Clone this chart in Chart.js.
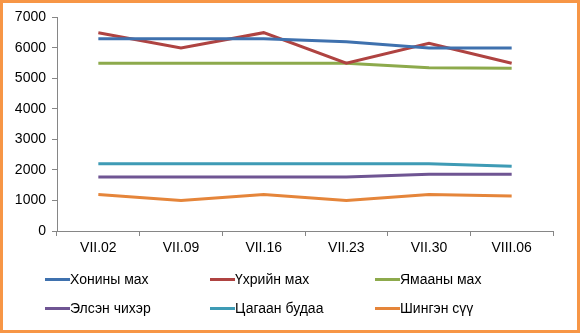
<!DOCTYPE html>
<html>
<head>
<meta charset="utf-8">
<script src="https://cdn.jsdelivr.net/npm/chart.js@4"></script>
<style>
  body { margin: 0; background: #fff; }
  #box { position: relative; width: 574px; height: 327px; border: 3px solid #F79646; background: #fff; }
  #wrap { position: absolute; left: 0; top: 0; width: 574px; height: 327px; }
  #legend { position: absolute; left: 0; top: 268px; width: 574px; font-family: "Liberation Sans", Arial, sans-serif; font-size: 14px; color: #000; }
  .item { position: absolute; white-space: nowrap; line-height: 16px; }
  .item span.sw { display: inline-block; width: 25px; height: 3px; vertical-align: middle; margin-right: 0; position: relative; top: -1px; }
</style>
</head>
<body>
<div id="box">
  <div id="wrap"><canvas id="chart"></canvas></div>
  <div id="legend"></div>
</div>
<script>
const categories = ['VII.02', 'VII.09', 'VII.16', 'VII.23', 'VII.30', 'VIII.06'];
const seriesNames = ['Хонины мах', 'Үхрийн мах', 'Ямааны мах', 'Элсэн чихэр', 'Цагаан будаа', 'Шингэн сүү'];
const khonyMakh = [6300, 6300, 6300, 6200, 6000, 6000];
const ukhriinMakh = [6500, 6000, 6500, 5500, 6150, 5500];
const yamaanyMakh = [5500, 5500, 5500, 5500, 5350, 5330];
const elsenChikher = [1770, 1770, 1770, 1770, 1860, 1860];
const tsagaanBudaa = [2200, 2200, 2200, 2200, 2200, 2120];
const shingenSuu = [1200, 1000, 1200, 1000, 1200, 1150];
const yTicks = [0, 1000, 2000, 3000, 4000, 5000, 6000, 7000];
const colors = ['#3F71AE', '#AF4341', '#8DAA4C', '#6F5593', '#3E9BB5', '#E5853A'];

const allValues = [khonyMakh, ukhriinMakh, yamaanyMakh, elsenChikher, tsagaanBudaa, shingenSuu];
const font = { family: '"Liberation Sans", Arial, sans-serif', size: 14 };

new Chart(document.getElementById('chart').getContext('2d'), {
  type: 'line',
  data: {
    labels: categories,
    datasets: allValues.map((vals, i) => ({
      label: seriesNames[i],
      data: vals,
      borderColor: colors[i],
      backgroundColor: colors[i],
      borderWidth: 3,
      pointRadius: 0,
      tension: 0
    }))
  },
  options: {
    responsive: true,
    maintainAspectRatio: false,
    animation: false,
    layout: { padding: { left: 0, right: 24, top: 6, bottom: 66 } },
    plugins: { legend: { display: false }, tooltip: { enabled: false } },
    scales: {
      x: {
        offset: true,
        grid: { offset: true, drawOnChartArea: false, drawTicks: true, tickLength: 5, color: '#868686' },
        border: { color: '#868686', width: 1 },
        ticks: { color: '#000', font: font, padding: 4, maxRotation: 0 },
        afterFit: s => { s.height = 33; }
      },
      y: {
        min: 0, max: 7000,
        afterBuildTicks: s => { s.ticks = yTicks.map(v => ({ value: v })); },
        grid: { drawOnChartArea: false, drawTicks: true, tickLength: 5, color: '#868686' },
        border: { color: '#868686', width: 1 },
        ticks: { color: '#000', font: font, padding: 6, callback: v => String(v) },
        afterFit: s => { s.width = 54; }
      }
    }
  }
});

const legend = document.getElementById('legend');
const colX = [42, 207, 372];
const rowY = [0, 29];
seriesNames.forEach((name, i) => {
  const d = document.createElement('div');
  d.className = 'item';
  d.style.left = colX[i % 3] + 'px';
  d.style.top = rowY[Math.floor(i / 3)] + 'px';
  d.innerHTML = '<span class="sw" style="background:' + colors[i] + '"></span>' + name;
  legend.appendChild(d);
});
</script>
</body>
</html>
